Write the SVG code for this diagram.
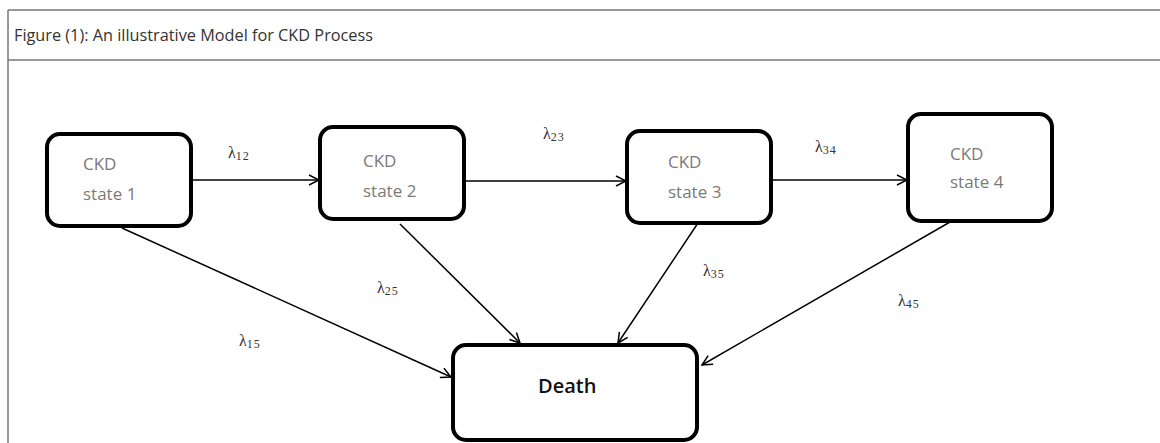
<svg xmlns="http://www.w3.org/2000/svg" width="1160" height="443" viewBox="0 0 1160 443">
<defs>
<marker id="arr" viewBox="0 0 12 12" refX="11" refY="6" markerWidth="12" markerHeight="12" markerUnits="userSpaceOnUse" orient="auto">
<path d="M1,1 L11,6 L1,11" fill="none" stroke="#000" stroke-width="1.5"/>
</marker>
<style>
.frame{stroke:#777;stroke-width:1.5;fill:none}
.box{fill:#fff;stroke:#000;stroke-width:4}
.lbl{font-family:"Open Sans","Liberation Sans",sans-serif;font-size:17px;fill:#7a7a7a}
.death{font-family:"Open Sans","Liberation Sans",sans-serif;font-size:20px;font-weight:600;fill:#111}
.lam{font-family:"Liberation Serif",serif;font-size:16px;fill:#333}
.sub{font-size:12px;letter-spacing:1px}
.con line{stroke:#000;stroke-width:1.5;marker-end:url(#arr)}
.title{font-family:"Open Sans","Liberation Sans",sans-serif;font-size:16px;fill:#333}
</style>
</defs>
<rect width="1160" height="443" fill="#fff"/>
<g id="frame">
<line class="frame" x1="8" y1="10" x2="1160" y2="10"/>
<line class="frame" x1="8" y1="60" x2="1160" y2="60"/>
<line class="frame" x1="8" y1="10" x2="8" y2="443"/>
<text class="title" x="14" y="41" textLength="359" lengthAdjust="spacingAndGlyphs">Figure (1): An illustrative Model for CKD Process</text>
</g>
<g class="con" id="connectors">
<line x1="192" y1="180" x2="319" y2="180"/>
<line x1="465" y1="181" x2="626" y2="181"/>
<line x1="772" y1="180" x2="907" y2="180"/>
<line x1="122" y1="228" x2="451" y2="377"/>
<line x1="400" y1="224" x2="520" y2="343"/>
<line x1="698" y1="223" x2="618" y2="343"/>
<line x1="950" y1="222" x2="702" y2="365"/>
</g>
<g id="labels">
<text class="lam" x="228" y="158">λ<tspan class="sub" dy="2">12</tspan></text>
<text class="lam" x="543" y="139">λ<tspan class="sub" dy="2">23</tspan></text>
<text class="lam" x="815" y="152">λ<tspan class="sub" dy="2">34</tspan></text>
<text class="lam" x="239" y="346">λ<tspan class="sub" dy="2">15</tspan></text>
<text class="lam" x="377" y="293">λ<tspan class="sub" dy="2">25</tspan></text>
<text class="lam" x="703" y="276">λ<tspan class="sub" dy="2">35</tspan></text>
<text class="lam" x="898" y="306">λ<tspan class="sub" dy="2">45</tspan></text>
</g>
<g id="state1">
<rect class="box" x="47" y="134" width="144" height="92" rx="13"/>
<text class="lbl" x="83" y="170">CKD</text>
<text class="lbl" x="83" y="200">state 1</text>
</g>
<g id="state2">
<rect class="box" x="320" y="127" width="144" height="92" rx="13"/>
<text class="lbl" x="363" y="167">CKD</text>
<text class="lbl" x="363" y="197">state 2</text>
</g>
<g id="state3">
<rect class="box" x="627" y="131" width="144" height="92" rx="13"/>
<text class="lbl" x="668" y="168">CKD</text>
<text class="lbl" x="668" y="198">state 3</text>
</g>
<g id="state4">
<rect class="box" x="908" y="114" width="144" height="107" rx="13"/>
<text class="lbl" x="950" y="160">CKD</text>
<text class="lbl" x="950" y="188">state 4</text>
</g>
<g id="death">
<rect class="box" x="453" y="345" width="244" height="95" rx="13"/>
<text class="death" x="538" y="393">Death</text>
</g>
</svg>
